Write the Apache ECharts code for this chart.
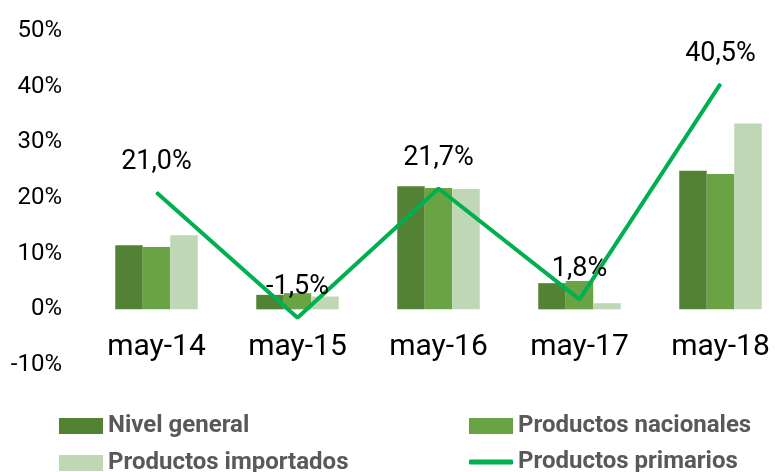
<!DOCTYPE html>
<html>
<head>
<meta charset="utf-8">
<script src="https://cdn.jsdelivr.net/npm/echarts@6/dist/echarts.min.js"></script>
<style>
html,body{margin:0;padding:0;background:#fff;overflow:hidden;}
/* el grafico original queda recortado a la derecha */
#main{width:800px;height:472px;}
</style>
</head>
<body>
<div id="main"></div>
<script>
// datos
var categorias = ['may-14', 'may-15', 'may-16', 'may-17', 'may-18'];
var nivelGeneral = [11.5, 2.6, 22.1, 4.7, 24.9];
var nacionales = [11.2, 2.9, 21.8, 5.1, 24.3];
var importados = [13.3, 2.3, 21.6, 1.1, 33.4];
var primarios = [21.0, -1.5, 21.7, 1.8, 40.5];

var myChart = echarts.init(document.getElementById('main'));

function leyenda(nombre, icono, left, top, alto) {
    return {
        data: [{name: nombre, icon: icono}],
        left: left,
        top: top,
        padding: 0,
        itemWidth: 44,
        itemHeight: alto,
        itemGap: 0,
        selectedMode: false,
        textStyle: {
            color: '#595959',
            fontFamily: 'Roboto',
            fontWeight: 'bold',
            fontSize: 24
        }
    };
}

var option = {
    animation: false,
    grid: {
        left: 86,
        top: 31,
        width: 705,
        height: 334
    },
    legend: [
        leyenda('Nivel general', 'rect', 59, 414, 16),
        leyenda('Productos nacionales', 'rect', 469, 414, 16),
        leyenda('Productos importados', 'rect', 59, 451, 16),
        leyenda('Productos primarios', 'roundRect', 469, 450, 5)
    ],
    xAxis: {
        type: 'category',
        data: categorias,
        axisLine: {show: false, onZero: false},
        axisTick: {show: false},
        axisLabel: {
            margin: -33,
            fontSize: 30,
            color: '#000',
            fontFamily: 'Roboto'
        }
    },
    yAxis: {
        type: 'value',
        min: -10,
        max: 50,
        interval: 10,
        splitLine: {show: false},
        axisLine: {show: false},
        axisTick: {show: false},
        axisLabel: {
            margin: 24,
            fontSize: 24,
            color: '#000',
            fontFamily: 'Roboto',
            formatter: '{value}%'
        }
    },
    series: [
        {
            name: 'Nivel general',
            type: 'bar',
            data: nivelGeneral,
            barWidth: 27.5,
            barGap: '0%',
            itemStyle: {color: '#548235'}
        },
        {
            name: 'Productos nacionales',
            type: 'bar',
            data: nacionales,
            barWidth: 27.5,
            barGap: '0%',
            itemStyle: {color: '#6aa343'}
        },
        {
            name: 'Productos importados',
            type: 'bar',
            data: importados,
            barWidth: 27.5,
            barGap: '0%',
            itemStyle: {color: '#bfd7b5'}
        },
        {
            name: 'Productos primarios',
            type: 'line',
            data: primarios,
            symbol: 'circle',
            symbolSize: 1,
            showSymbol: true,
            lineStyle: {color: '#00b050', width: 4},
            itemStyle: {color: '#00b050'},
            z: 5,
            label: {
                show: true,
                position: 'top',
                distance: 16,
                fontSize: 27,
                color: '#000',
                fontFamily: 'Roboto',
                formatter: function (p) {
                    return p.value.toFixed(1).replace('.', ',') + '%';
                }
            }
        }
    ]
};

myChart.setOption(option);
</script>
</body>
</html>
